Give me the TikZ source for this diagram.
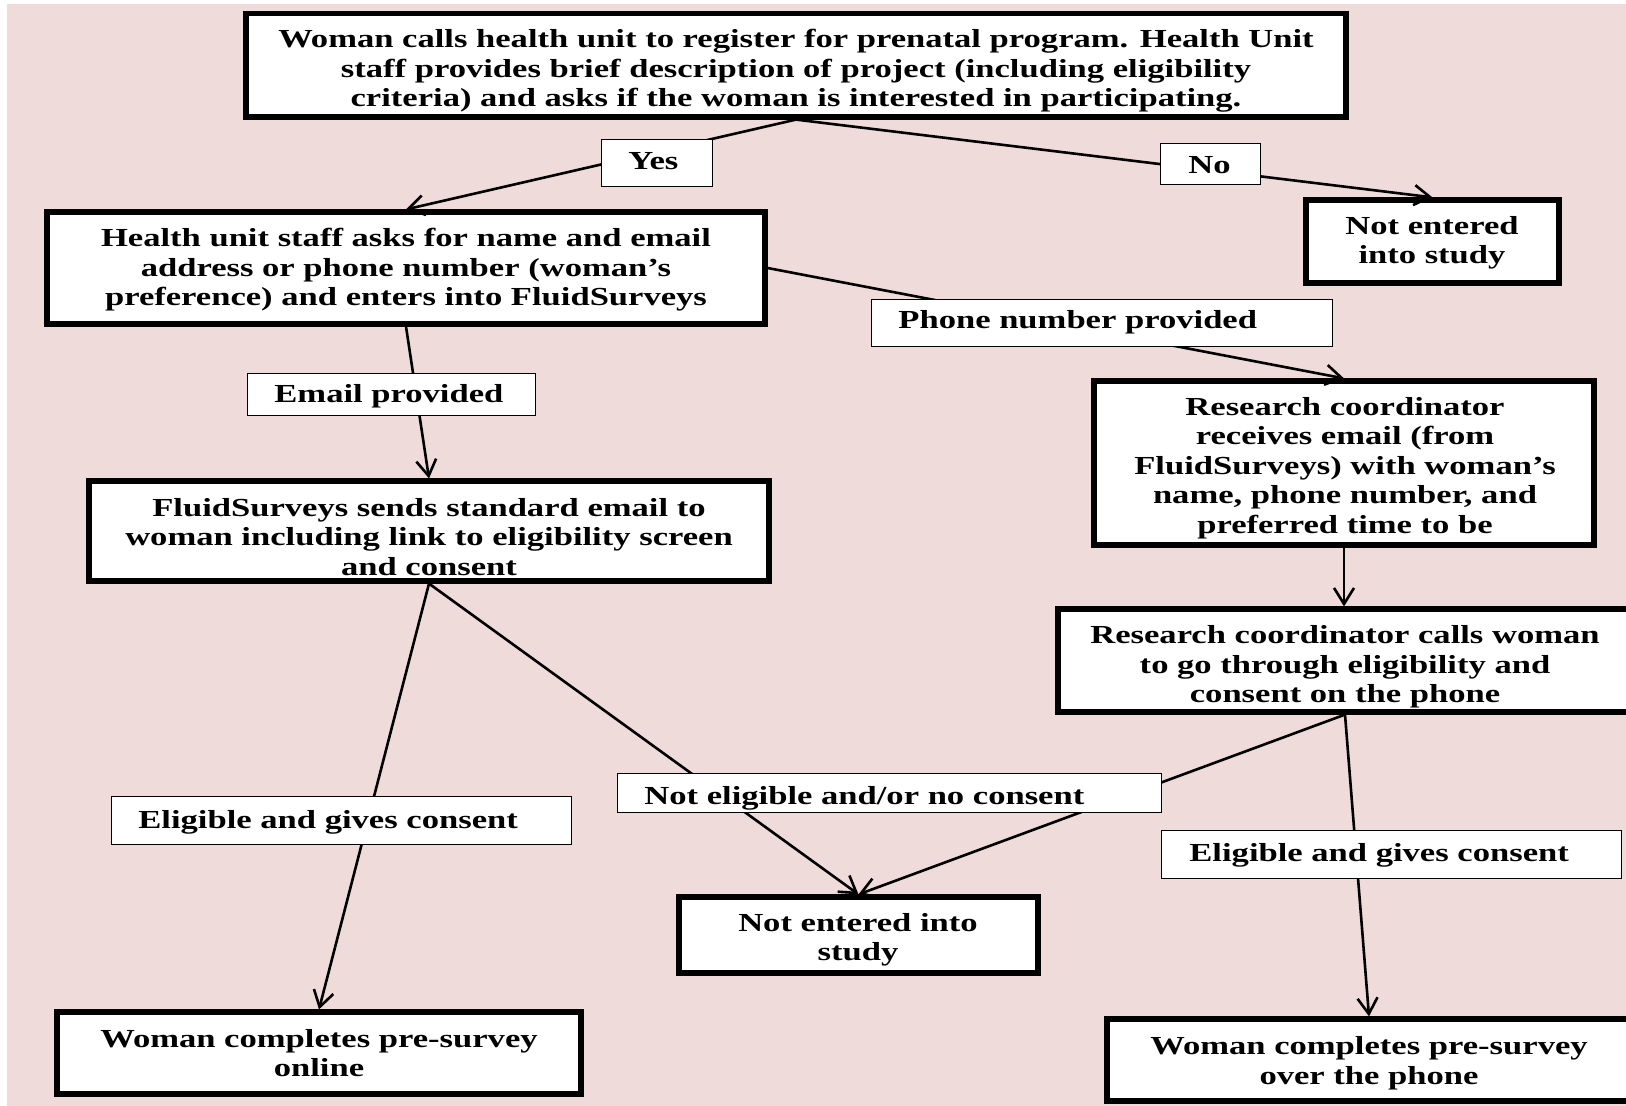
\documentclass[tikz,border=0pt]{standalone}
\usepackage{fontspec}
\setmainfont{Liberation Serif}[FakeStretch=1.33]
\usetikzlibrary{arrows.meta}
\definecolor{bgpink}{RGB}{240,219,219}
\begin{document}
\begin{tikzpicture}[x=0.5pt,y=-0.5pt,
  mainbox/.style={draw=black, fill=white, line width=2.6pt, inner sep=0pt},
  lblbox/.style={draw=black, fill=white, line width=0.7pt, inner sep=0pt},
  txt/.style={inner sep=0pt, align=center, font=\fontsize{13}{14.75}\selectfont\bfseries},
  lbltxt/.style={inner sep=0pt, anchor=base west, font=\fontsize{13}{14.75}\selectfont\bfseries},
  conn/.style={line width=1.3pt, -{Straight Barb[length=8pt,width=10pt]}}]
\useasboundingbox (0,0) rectangle (1626,1106);
\clip (0,0) rectangle (1626,1106);
\fill[white] (0,0) rectangle (1626,1106);
\fill[bgpink] (7,4) rectangle (1626,1106);

% main boxes
\node[mainbox, minimum width=550pt, minimum height=51.75pt] (top) at (796,65.25) {};
\node[mainbox, minimum width=126.5pt, minimum height=41.5pt] (ne1) at (1432.5,241.5) {};
\node[mainbox, minimum width=359pt, minimum height=56pt] (health) at (406,268) {};
\node[mainbox, minimum width=250pt, minimum height=82pt] (rcr) at (1344,463) {};
\node[mainbox, minimum width=340pt, minimum height=50pt] (fs) at (429,531) {};
\node[mainbox, minimum width=291pt, minimum height=51.5pt] (rcc) at (1349,660.5) {};
\node[mainbox, minimum width=179.5pt, minimum height=38pt] (ne2) at (858.5,935) {};
\node[mainbox, minimum width=262pt, minimum height=41pt] (online) at (319,1053) {};
\node[mainbox, minimum width=266.5pt, minimum height=41pt] (phone) at (1373.5,1060) {};

% texts of main boxes
\node[txt] (toptxt) at (796,71) {Woman calls health unit to register for prenatal program. Health Unit\\ staff provides brief description of project (including eligibility\\ criteria) and asks if the woman is interested in participating.};
\node[txt] (ne1txt) at (1432,243) {Not entered\\ into study};
\node[txt] (healthtxt) at (406,270) {Health unit staff asks for name and email\\ address or phone number (woman’s\\ preference) and enters into FluidSurveys};
\node[txt] (rcrtxt) at (1345,468) {Research coordinator\\ receives email (from\\ FluidSurveys) with woman’s\\ name, phone number, and\\ preferred time to be};
\node[txt] (fstxt) at (429,537) {FluidSurveys sends standard email to\\ woman including link to eligibility screen\\ and consent};
\node[txt] (rcctxt) at (1345,667) {Research coordinator calls woman\\ to go through eligibility and\\ consent on the phone};
\node[txt] (ne2txt) at (858,940) {Not entered into\\ study};
\node[txt] (onlinetxt) at (319,1053) {Woman completes pre-survey\\ online};
\node[txt] (phonetxt) at (1369,1063) {Woman completes pre-survey\\ over the phone};

% connectors
\coordinate (rccout) at (rcc.south -| rcctxt.center);
\draw[conn] (top.south) -- (health.north);
\draw[conn] (top.south) -- (ne1.north);
\draw[conn] (health.south) -- (fs.north);
\draw[conn] (health.east) -- (rcr.north);
\draw[conn] (rcr.south) -- (rcr.south |- rcc.north);
\draw[conn] (fs.south) -- (online.north);
\draw[conn] (fs.south) -- (ne2.north);
\draw[conn] (rccout) -- (ne2.north);
\draw[conn] (rccout) -- (phone.north -| phonetxt.center);

% label boxes
\node[lblbox, anchor=north west, minimum width=55.5pt, minimum height=23.5pt] (yes) at (601,139) {};
\node[lbltxt] (yestxt) at (628,170) {Yes};
\node[lblbox, anchor=north west, minimum width=50pt, minimum height=20.5pt] (no) at (1160,143) {};
\node[lbltxt] (notxt) at (1188,174) {No};
\node[lblbox, anchor=north west, minimum width=230.5pt, minimum height=23.5pt] (phoneprov) at (871,299) {};
\node[lbltxt] (phoneprovtxt) at (898,329) {Phone number provided};
\node[lblbox, anchor=north west, minimum width=144pt, minimum height=21pt] (emailprov) at (247,373) {};
\node[lbltxt] (emailprovtxt) at (274,403) {Email provided};
\node[lblbox, anchor=north west, minimum width=230pt, minimum height=24pt] (eligl) at (111,796) {};
\node[lbltxt] (eligltxt) at (138,828) {Eligible and gives consent};
\node[lblbox, anchor=north west, minimum width=272pt, minimum height=19.5pt] (notelig) at (617,773) {};
\node[lbltxt] (noteligtxt) at (644,804) {Not eligible and/or no consent};
\node[lblbox, anchor=north west, minimum width=230pt, minimum height=24pt] (eligr) at (1161,830) {};
\node[lbltxt] (eligrtxt) at (1189,861) {Eligible and gives consent};
\end{tikzpicture}
\end{document}
